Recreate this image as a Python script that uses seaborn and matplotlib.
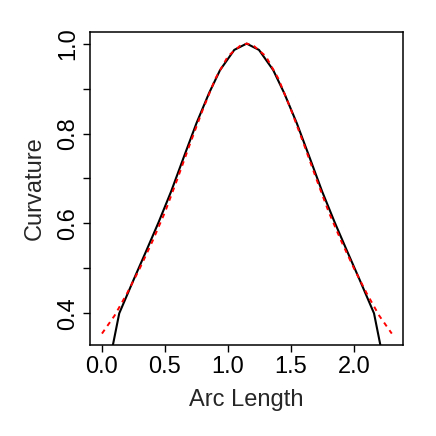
import numpy as np
import pandas as pd
import matplotlib
matplotlib.use("Agg")
import matplotlib.pyplot as plt
import seaborn as sns

# Black curve (observed curvature vs arc length)
black_x = [0.03, 0.137, 0.25, 0.35, 0.45, 0.55, 0.65, 0.75, 0.85, 0.937, 1.05, 1.148,
           1.246, 1.359, 1.446, 1.546, 1.646, 1.746, 1.846, 1.946, 2.046, 2.159, 2.266]
black_y = [0.25, 0.40, 0.474, 0.538, 0.603, 0.672, 0.748, 0.823, 0.89, 0.941, 0.986, 1.0,
           0.986, 0.941, 0.89, 0.823, 0.748, 0.672, 0.603, 0.538, 0.474, 0.40, 0.25]

# Red dashed curve (fitted curvature)
red_x = [0.0, 0.1, 0.2, 0.3, 0.4, 0.5, 0.6, 0.7, 0.8, 0.9, 1.0, 1.1, 1.15,
         1.2, 1.3, 1.4, 1.5, 1.6, 1.7, 1.8, 1.9, 2.0, 2.1, 2.2, 2.3]
red_y = [0.355, 0.395, 0.445, 0.50, 0.56, 0.625, 0.70, 0.778, 0.853, 0.922, 0.972, 0.996, 1.0,
         0.996, 0.972, 0.922, 0.853, 0.778, 0.70, 0.625, 0.56, 0.50, 0.445, 0.395, 0.355]

x_ticks = [0.0, 0.5, 1.0, 1.5, 2.0]
x_ticklabels = ["0.0", "0.5", "1.0", "1.5", "2.0"]
y_ticks = [0.4, 0.5, 0.6, 0.7, 0.8, 0.9, 1.0]
y_ticklabels = ["0.4", "", "0.6", "", "0.8", "", "1.0"]

sns.set_style("white")
plt.rcParams['font.family'] = ['Liberation Sans', 'DejaVu Sans']

fig = plt.figure(figsize=(4.36, 4.36), dpi=100)
ax = fig.add_axes([90/436, 1 - 345/436, (403 - 90)/436, (345 - 32)/436])

df_b = pd.DataFrame({"x": black_x, "y": black_y})
df_r = pd.DataFrame({"x": red_x, "y": red_y})
sns.lineplot(data=df_b, x="x", y="y", sort=False, estimator=None, color="black",
             linewidth=1.5, ax=ax)
sns.lineplot(data=df_r, x="x", y="y", sort=False, estimator=None, color="red",
             linewidth=1.4, ax=ax, dashes=False)
ax.lines[-1].set_dashes([2.4, 2.4])

ax.set_xlim(-0.095, 2.389)
ax.set_ylim(0.3296, 1.0258)
ax.set_xticks(x_ticks)
ax.set_xticklabels(x_ticklabels)
ax.set_yticks(y_ticks)
ax.set_yticklabels(y_ticklabels, rotation=90, va="center")
ax.tick_params(axis="both", direction="out", length=5, width=1.0, labelsize=17,
               color="black", labelcolor="black", bottom=True, left=True)
ax.tick_params(axis="x", pad=3)
ax.tick_params(axis="y", pad=3)
for s in ax.spines.values():
    s.set_visible(True)
    s.set_color("black")
    s.set_linewidth(1.1)
ax.set_xlabel("Arc Length", fontsize=17, labelpad=8)
ax.set_ylabel("Curvature", fontsize=17, labelpad=8)

fig.savefig("out.png", dpi=100)
